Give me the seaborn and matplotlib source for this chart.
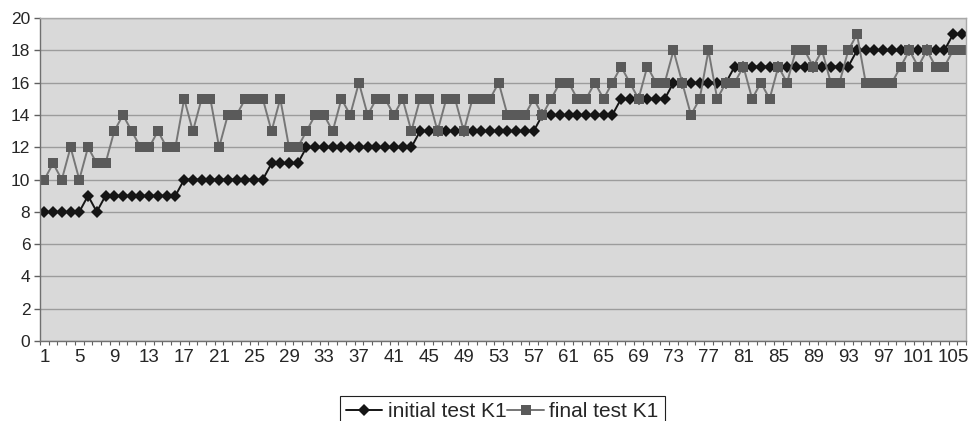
import matplotlib

matplotlib.use('Agg')
import numpy as np
import pandas as pd
import matplotlib.pyplot as plt
import seaborn as sns

# scores per student (106 students)
initial_k1 = [8, 8, 8, 8, 8, 9, 8, 9, 9, 9,
              9, 9, 9, 9, 9, 9, 10, 10, 10, 10,
              10, 10, 10, 10, 10, 10, 11, 11, 11, 11,
              12, 12, 12, 12, 12, 12, 12, 12, 12, 12,
              12, 12, 12, 13, 13, 13, 13, 13, 13, 13,
              13, 13, 13, 13, 13, 13, 13, 14, 14, 14,
              14, 14, 14, 14, 14, 14, 15, 15, 15, 15,
              15, 15, 16, 16, 16, 16, 16, 16, 16, 17,
              17, 17, 17, 17, 17, 17, 17, 17, 17, 17,
              17, 17, 17, 18, 18, 18, 18, 18, 18, 18,
              18, 18, 18, 18, 19, 19]
final_k1 = [10, 11, 10, 12, 10, 12, 11, 11, 13, 14,
            13, 12, 12, 13, 12, 12, 15, 13, 15, 15,
            12, 14, 14, 15, 15, 15, 13, 15, 12, 12,
            13, 14, 14, 13, 15, 14, 16, 14, 15, 15,
            14, 15, 13, 15, 15, 13, 15, 15, 13, 15,
            15, 15, 16, 14, 14, 14, 15, 14, 15, 16,
            16, 15, 15, 16, 15, 16, 17, 16, 15, 17,
            16, 16, 18, 16, 14, 15, 18, 15, 16, 16,
            17, 15, 16, 15, 17, 16, 18, 18, 17, 18,
            16, 16, 18, 19, 16, 16, 16, 16, 17, 18,
            17, 18, 17, 17, 18, 18]
series_names = ['initial test K1', 'final test K1']
y_ticks = [0, 2, 4, 6, 8, 10, 12, 14, 16, 18, 20]
x_tick_values = [1, 5, 9, 13, 17, 21, 25, 29, 33, 37, 41, 45, 49, 53,
                 57, 61, 65, 69, 73, 77, 81, 85, 89, 93, 97, 101, 105]

students = np.arange(1, len(initial_k1) + 1)

sns.set_style('white')
plt.rcParams['font.family'] = ['Liberation Sans', 'DejaVu Sans']

fig = plt.figure(figsize=(9.75, 4.21), dpi=100)
ax = fig.add_axes([0.041, 0.19, 0.950, 0.767])
ax.set_facecolor('#d9d9d9')
ax.set_axisbelow(True)
ax.yaxis.grid(True, color='#9c9c9c', linewidth=1.0)

sns.lineplot(x=students, y=initial_k1, ax=ax, color='#151515', linewidth=1.4,
             marker='D', markersize=6.5, markeredgewidth=0, label=series_names[0])
sns.lineplot(x=students, y=final_k1, ax=ax, color='#767676', linewidth=1.4,
             marker='s', markersize=7, markerfacecolor='#5a5a5a',
             markeredgewidth=0, label=series_names[1])

ax.set_xlim(0.5, len(students) + 0.5)
ax.set_ylim(0, 20)
ax.set_yticks(y_ticks)
ax.set_xticks(x_tick_values)
ax.set_xticklabels([str(v) for v in x_tick_values])
ax.set_xticks(np.arange(0.5, len(students) + 1, 1.0), minor=True)
ax.set_xlabel('')
ax.set_ylabel('')

ax.tick_params(axis='y', length=4, width=1, color='#606060', pad=3,
               labelsize=12.5, left=True)
ax.tick_params(axis='x', which='major', length=0, pad=6, labelsize=13.5)
ax.tick_params(axis='x', which='minor', length=3, width=0.8,
               color='#606060', bottom=True)

for side in ['left', 'bottom']:
    ax.spines[side].set_color('#707070')
    ax.spines[side].set_linewidth(1.0)
for side in ['top', 'right']:
    ax.spines[side].set_color('#a8a8a8')
    ax.spines[side].set_linewidth(1.0)

leg = ax.legend(loc='upper center', bbox_to_anchor=(0.515, 0.06),
                bbox_transform=fig.transFigure, ncol=2, frameon=True,
                fancybox=False, fontsize=15, handlelength=1.75,
                handletextpad=0.25, columnspacing=0.05, borderpad=0.3,
                borderaxespad=0)
leg.get_frame().set_edgecolor('#202020')
leg.get_frame().set_linewidth(0.8)
leg.get_frame().set_alpha(1)

fig.savefig('out.png', dpi=100, facecolor='white')
